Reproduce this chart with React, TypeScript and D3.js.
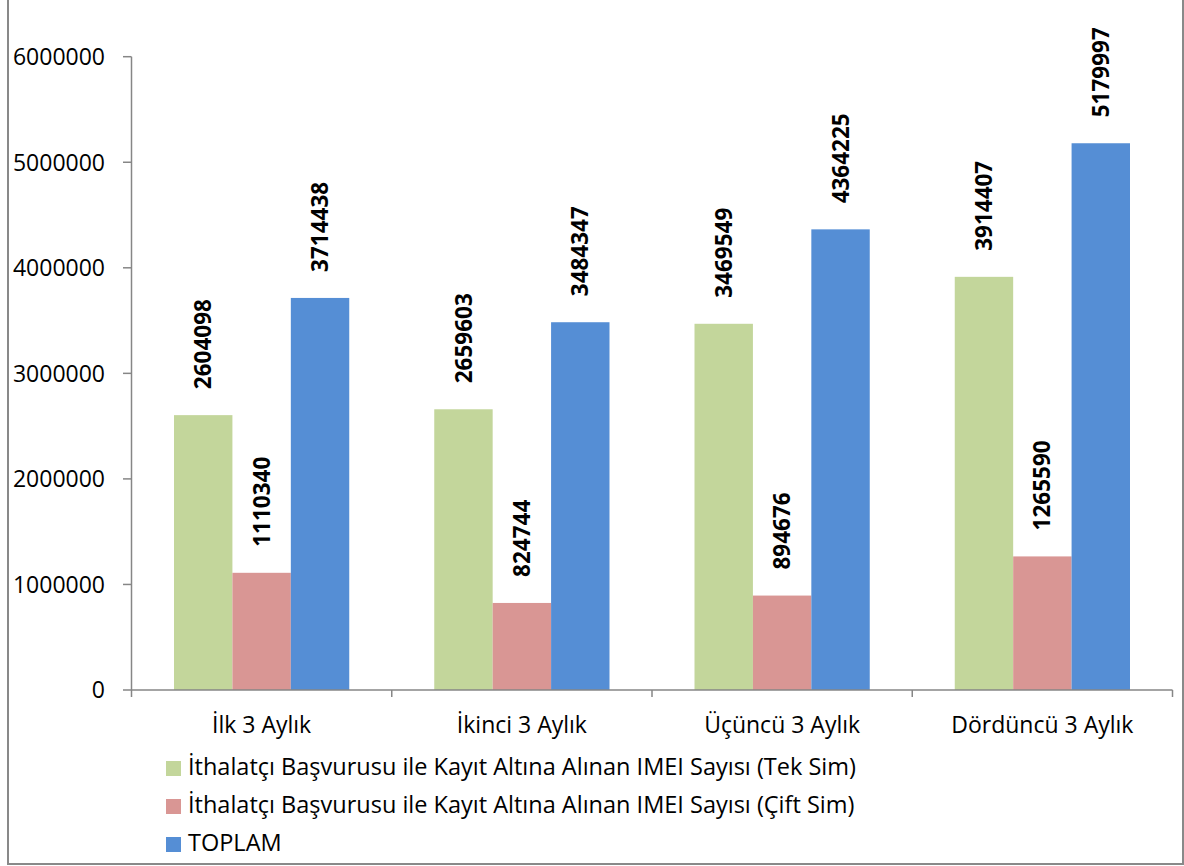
import * as d3 from 'd3'

const categories = ['İlk 3 Aylık', 'İkinci 3 Aylık', 'Üçüncü 3 Aylık', 'Dördüncü 3 Aylık']
const seriesNames = [
  'İthalatçı Başvurusu ile Kayıt Altına Alınan IMEI Sayısı (Tek Sim)',
  'İthalatçı Başvurusu ile Kayıt Altına Alınan IMEI Sayısı (Çift Sim)',
  'TOPLAM',
]
const tekSim = [2604098, 2659603, 3469549, 3914407]
const ciftSim = [1110340, 824744, 894676, 1265590]
const toplam = [3714438, 3484347, 4364225, 5179997]
const yTicks = [0, 1000000, 2000000, 3000000, 4000000, 5000000, 6000000]

const colors = ['#C3D69B', '#D99694', '#558ED5']
const values = [tekSim, ciftSim, toplam]

const width = 1184
const height = 866
const plotLeft = 131.5
const plotRight = 1172.5
const plotTop = 56.7
const plotBottom = 690
const font = "'Open Sans', sans-serif"

export default function App() {
  const y = d3.scaleLinear([0, 6000000], [plotBottom, plotTop])
  const x = d3.scaleBand(categories, [plotLeft, plotRight]).padding(0)
  const bw = x.bandwidth()
  const inner = d3.scaleBand(d3.range(3), [42.5, bw - 42.5]).padding(0)
  const axisColor = '#868686'

  const bounds = d3.range(categories.length + 1).map(i => plotLeft + i * bw)

  return (
    <svg
      width={width}
      height={height}
      viewBox={`0 0 ${width} ${height}`}
      style={{ position: 'absolute', left: 0, top: 0, background: '#fff' }}
      fontFamily={font}
    >
      <rect x={8} y={-2} width={1175} height={866} fill="#fff" stroke="#898989" strokeWidth={2} />

      {/* bars */}
      {values.map((vals, si) =>
        vals.map((v, ci) => (
          <rect
            key={`${si}-${ci}`}
            x={(x(categories[ci]) ?? 0) + (inner(si) ?? 0)}
            y={y(v)}
            width={inner.bandwidth()}
            height={plotBottom - y(v)}
            fill={colors[si]}
          />
        ))
      )}

      {/* y axis */}
      <line x1={plotLeft} x2={plotLeft} y1={plotTop} y2={plotBottom} stroke={axisColor} strokeWidth={1.5} />
      {yTicks.map(t => (
        <g key={t}>
          <line x1={123} x2={plotLeft} y1={y(t)} y2={y(t)} stroke={axisColor} strokeWidth={1.5} />
          <text x={105} y={y(t)} dy="0.36em" textAnchor="end" fontSize={23} fill="#000">
            {t}
          </text>
        </g>
      ))}

      {/* x axis */}
      <line x1={plotLeft} x2={plotRight} y1={plotBottom} y2={plotBottom} stroke={axisColor} strokeWidth={1.5} />
      {bounds.map(b => (
        <line key={b} x1={b} x2={b} y1={plotBottom} y2={697} stroke={axisColor} strokeWidth={1.5} />
      ))}
      {categories.map(c => (
        <text key={c} x={(x(c) ?? 0) + bw / 2} y={733} textAnchor="middle" fontSize={23} fill="#000">
          {c}
        </text>
      ))}

      {/* data labels */}
      {values.map((vals, si) =>
        vals.map((v, ci) => {
          const cx = (x(categories[ci]) ?? 0) + (inner(si) ?? 0) + inner.bandwidth() / 2
          const ty = y(v) - 26
          return (
            <text
              key={`l-${si}-${ci}`}
              transform={`translate(${cx},${ty}) rotate(-90)`}
              dy="0.36em"
              textAnchor="start"
              fontSize={22.5}
              fontWeight="bold"
              fill="#000"
            >
              {v}
            </text>
          )
        })
      )}

      {/* legend */}
      {seriesNames.map((n, i) => (
        <g key={n} transform={`translate(166,${761 + i * 38})`}>
          <rect width={15} height={15} fill={colors[i]} />
          <text x={22} y={14} fontSize={23.5} fill="#000">
            {n}
          </text>
        </g>
      ))}
    </svg>
  )
}
